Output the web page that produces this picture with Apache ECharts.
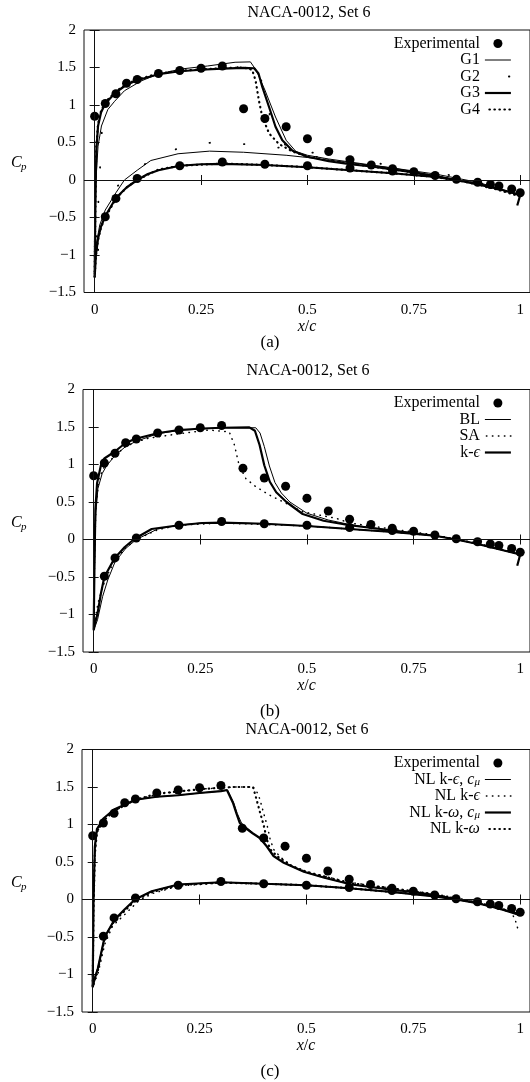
<!DOCTYPE html>
<html>
<head>
<meta charset="utf-8">
<script src="https://cdn.jsdelivr.net/npm/echarts@6/dist/echarts.min.js"></script>
<style>
  html, body { margin: 0; padding: 0; background: #fff; }
  #chart { width: 530px; height: 1082px; }
</style>
</head>
<body>
<div id="chart"></div>
<script>
// ---- experimental points (same set in all three panels) ----
const expUpperX = [0, 0.025, 0.05, 0.075, 0.1, 0.15, 0.2, 0.25, 0.3, 0.35, 0.4, 0.45, 0.5, 0.55, 0.6, 0.65, 0.7, 0.75, 0.8, 0.85, 0.9, 0.93, 0.95, 0.98, 1.0];
const expUpperCp = [0.85, 1.02, 1.15, 1.29, 1.34, 1.42, 1.46, 1.49, 1.52, 0.95, 0.82, 0.71, 0.55, 0.38, 0.27, 0.2, 0.15, 0.11, 0.06, 0.01, -0.03, -0.06, -0.08, -0.12, -0.17];
const expLowerX = [0.025, 0.05, 0.1, 0.2, 0.3, 0.4, 0.5, 0.6, 0.7];
const expLowerCp = [-0.49, -0.245, 0.02, 0.19, 0.24, 0.21, 0.19, 0.16, 0.12];

// ---- panel (a): grids ----
const g1UpX = [1.0, 0.9, 0.8, 0.7, 0.6, 0.55, 0.5, 0.473, 0.45, 0.425, 0.4, 0.38, 0.366, 0.33, 0.304, 0.265, 0.203, 0.148, 0.109, 0.07, 0.047, 0.031, 0.016, 0.008, 0.003, 0];
const g1UpCp = [-0.2, -0.05, 0.06, 0.16, 0.24, 0.28, 0.33, 0.38, 0.53, 0.84, 1.2, 1.46, 1.575, 1.57, 1.55, 1.52, 1.48, 1.41, 1.32, 1.19, 1.05, 0.94, 0.72, 0.45, 0.0, -1.2];
const g1LoX = [0.004, 0.012, 0.025, 0.05, 0.07, 0.1, 0.132, 0.196, 0.27, 0.35, 0.45, 0.5, 0.6, 0.7, 0.8, 0.9, 1.0];
const g1LoCp = [-0.85, -0.6, -0.4, -0.17, 0.0, 0.13, 0.26, 0.35, 0.385, 0.37, 0.33, 0.3, 0.23, 0.16, 0.08, -0.03, -0.2];

const g2UpX = [1.0, 0.8, 0.6, 0.5, 0.45, 0.42, 0.4, 0.385, 0.3, 0.2, 0.1, 0.05, 0.02, 0];
const g2UpCp = [-0.2, 0.06, 0.23, 0.33, 0.45, 0.7, 1.1, 1.5, 1.51, 1.47, 1.34, 1.18, 1.0, -1.3];
const g2LoX = [0.02, 0.05, 0.1, 0.15, 0.2, 0.275, 0.35, 0.45, 0.55, 0.7, 0.85, 1.0];
const g2LoCp = [-0.4, -0.1, 0.15, 0.32, 0.43, 0.5, 0.48, 0.42, 0.33, 0.19, 0.05, -0.2];

const g3UpX = [1.0, 0.95, 0.9, 0.85, 0.8, 0.75, 0.7, 0.65, 0.6, 0.55, 0.5, 0.465, 0.441, 0.425, 0.41, 0.394, 0.385, 0.375, 0.35, 0.3, 0.25, 0.2, 0.15, 0.1, 0.075, 0.05, 0.025, 0.015, 0.008, 0.004, 0.002, 0];
const g3UpCp = [-0.2, -0.12, -0.06, 0.0, 0.05, 0.1, 0.14, 0.18, 0.21, 0.25, 0.31, 0.39, 0.53, 0.71, 0.97, 1.24, 1.42, 1.49, 1.495, 1.485, 1.47, 1.45, 1.41, 1.33, 1.27, 1.17, 1.02, 0.9, 0.72, 0.4, -0.2, -1.3];
const g3LoX = [0.003, 0.008, 0.015, 0.025, 0.05, 0.075, 0.1, 0.125, 0.15, 0.2, 0.25, 0.3, 0.4, 0.5, 0.6, 0.7, 0.8, 0.85, 0.9, 0.95, 1.0, 0.993];
const g3LoCp = [-1.0, -0.78, -0.62, -0.48, -0.24, -0.1, 0.0, 0.08, 0.13, 0.19, 0.21, 0.215, 0.2, 0.17, 0.13, 0.09, 0.04, 0.0, -0.05, -0.12, -0.2, -0.34];

const g4UpX = [1.0, 0.95, 0.9, 0.85, 0.8, 0.75, 0.7, 0.65, 0.6, 0.55, 0.5, 0.465, 0.433, 0.41, 0.394, 0.386, 0.378, 0.37, 0.35, 0.3, 0.25, 0.2, 0.15, 0.1, 0.075, 0.05, 0.025, 0.015, 0.008, 0.004, 0.002, 0];
const g4UpCp = [-0.21, -0.13, -0.06, 0.0, 0.05, 0.1, 0.14, 0.18, 0.22, 0.26, 0.31, 0.38, 0.48, 0.62, 0.84, 1.06, 1.33, 1.47, 1.5, 1.49, 1.475, 1.455, 1.42, 1.34, 1.28, 1.18, 1.04, 0.92, 0.75, 0.45, -0.2, -1.3];
const g4LoX = [0.003, 0.008, 0.015, 0.025, 0.05, 0.075, 0.1, 0.15, 0.2, 0.3, 0.4, 0.5, 0.6, 0.7, 0.8, 0.9, 1.0];
const g4LoCp = [-1.0, -0.8, -0.63, -0.5, -0.25, -0.1, 0.0, 0.14, 0.19, 0.22, 0.2, 0.17, 0.13, 0.09, 0.04, -0.05, -0.22];

// ---- panel (b): turbulence models ----
const blUpX = [1.0, 0.95, 0.9, 0.85, 0.8, 0.7, 0.6, 0.55, 0.5, 0.46, 0.44, 0.425, 0.412, 0.4, 0.39, 0.38, 0.3, 0.2, 0.15, 0.1, 0.075, 0.05, 0.03, 0.02, 0.01, 0.005, 0.002, 0];
const blUpCp = [-0.2, -0.13, -0.06, 0.0, 0.05, 0.12, 0.2, 0.26, 0.35, 0.5, 0.62, 0.76, 0.98, 1.24, 1.42, 1.49, 1.49, 1.455, 1.41, 1.31, 1.24, 1.12, 0.98, 0.88, 0.68, 0.35, -0.4, -1.2];
const blLoX = [0.004, 0.009, 0.021, 0.033, 0.05, 0.075, 0.1, 0.15, 0.2, 0.25, 0.3, 0.4, 0.5, 0.6, 0.7, 0.8, 0.85, 0.9, 0.95, 1.0];
const blLoCp = [-1.15, -1.07, -0.76, -0.54, -0.3, -0.12, 0.0, 0.14, 0.19, 0.22, 0.225, 0.21, 0.18, 0.14, 0.1, 0.05, 0.0, -0.06, -0.13, -0.2];

const saUpX = [1.0, 0.9, 0.8, 0.7, 0.6, 0.57, 0.49, 0.452, 0.413, 0.381, 0.357, 0.341, 0.33, 0.318, 0.27, 0.2, 0.128, 0.1, 0.075, 0.05, 0.025, 0.012, 0.005, 0.002, 0];
const saUpCp = [-0.2, -0.05, 0.06, 0.14, 0.22, 0.28, 0.37, 0.48, 0.59, 0.7, 0.81, 0.99, 1.26, 1.435, 1.46, 1.41, 1.35, 1.3, 1.24, 1.12, 0.97, 0.8, 0.4, -0.3, -1.2];
const saLoX = [0.004, 0.01, 0.02, 0.03, 0.05, 0.075, 0.1, 0.15, 0.2, 0.3, 0.4, 0.5, 0.6, 0.7, 0.8, 0.9, 1.0];
const saLoCp = [-1.05, -0.85, -0.65, -0.5, -0.27, -0.11, 0.0, 0.13, 0.19, 0.22, 0.2, 0.18, 0.14, 0.1, 0.05, -0.05, -0.19];

const keUpX = [1.0, 0.95, 0.9, 0.85, 0.8, 0.7, 0.6, 0.539, 0.49, 0.452, 0.428, 0.413, 0.4, 0.389, 0.378, 0.365, 0.3, 0.255, 0.2, 0.152, 0.096, 0.073, 0.049, 0.025, 0.017, 0.008, 0.004, 0.002, 0];
const keUpCp = [-0.2, -0.13, -0.06, 0.0, 0.05, 0.12, 0.19, 0.25, 0.34, 0.5, 0.63, 0.77, 0.99, 1.26, 1.45, 1.495, 1.49, 1.48, 1.46, 1.42, 1.34, 1.28, 1.17, 1.08, 0.99, 0.75, 0.4, -0.3, -1.21];
const keLoX = [0.004, 0.009, 0.017, 0.025, 0.049, 0.073, 0.096, 0.136, 0.2, 0.255, 0.3, 0.4, 0.5, 0.6, 0.7, 0.8, 0.85, 0.9, 0.95, 1.0, 0.993];
const keLoCp = [-1.1, -0.99, -0.72, -0.5, -0.25, -0.1, 0.01, 0.14, 0.19, 0.22, 0.225, 0.21, 0.18, 0.14, 0.1, 0.05, 0.0, -0.06, -0.13, -0.2, -0.35];

// ---- panel (c): non-linear models ----
const nkecUpX = [1.0, 0.95, 0.9, 0.85, 0.8, 0.75, 0.7, 0.605, 0.542, 0.494, 0.447, 0.423, 0.407, 0.393, 0.378, 0.36, 0.348, 0.338, 0.33, 0.316, 0.3, 0.25, 0.2, 0.15, 0.1, 0.05, 0.025, 0.01, 0.005, 0.002, 0];
const nkecUpCp = [-0.2, -0.12, -0.05, 0.0, 0.06, 0.1, 0.13, 0.2, 0.29, 0.37, 0.49, 0.58, 0.71, 0.8, 0.87, 0.96, 1.02, 1.15, 1.29, 1.455, 1.445, 1.42, 1.39, 1.37, 1.33, 1.2, 1.08, 0.94, 0.7, 0.0, -1.17];
const nkecLoX = [0.004, 0.012, 0.028, 0.051, 0.075, 0.099, 0.138, 0.2, 0.3, 0.4, 0.5, 0.6, 0.7, 0.8, 0.85, 0.9, 0.95, 1.0];
const nkecLoCp = [-1.05, -0.91, -0.49, -0.27, -0.13, 0.0, 0.11, 0.2, 0.23, 0.21, 0.19, 0.15, 0.1, 0.04, 0.0, -0.05, -0.12, -0.2];

const nkeUpX = [1.0, 0.9, 0.8, 0.7, 0.6, 0.5, 0.47, 0.44, 0.423, 0.415, 0.408, 0.399, 0.391, 0.383, 0.375, 0.33, 0.3, 0.25, 0.2, 0.15, 0.1, 0.05, 0.025, 0.01, 0.005, 0.002, 0];
const nkeUpCp = [-0.2, -0.04, 0.07, 0.15, 0.23, 0.37, 0.43, 0.56, 0.67, 0.81, 0.99, 1.17, 1.34, 1.45, 1.5, 1.5, 1.49, 1.47, 1.44, 1.4, 1.33, 1.18, 1.05, 0.9, 0.6, -0.1, -1.17];
const nkeLoX = [0.004, 0.012, 0.028, 0.047, 0.075, 0.107, 0.14, 0.2, 0.3, 0.4, 0.5, 0.6, 0.7, 0.8, 0.9, 0.95, 0.98, 0.99, 0.995];
const nkeLoCp = [-1.1, -1.0, -0.6, -0.35, -0.2, -0.02, 0.08, 0.18, 0.22, 0.21, 0.19, 0.15, 0.1, 0.05, -0.04, -0.11, -0.17, -0.3, -0.4];

const nkwcUpX = [1.0, 0.95, 0.9, 0.85, 0.8, 0.75, 0.7, 0.605, 0.542, 0.494, 0.447, 0.423, 0.407, 0.391, 0.375, 0.356, 0.344, 0.336, 0.328, 0.314, 0.3, 0.25, 0.2, 0.15, 0.1, 0.05, 0.025, 0.01, 0.005, 0.002, 0];
const nkwcUpCp = [-0.2, -0.12, -0.05, 0.0, 0.06, 0.1, 0.13, 0.2, 0.29, 0.37, 0.49, 0.58, 0.71, 0.82, 0.88, 0.96, 1.02, 1.15, 1.29, 1.46, 1.445, 1.42, 1.39, 1.37, 1.33, 1.2, 1.08, 0.94, 0.7, 0.0, -1.17];
const nkwcLoX = [0.004, 0.012, 0.028, 0.051, 0.075, 0.099, 0.138, 0.2, 0.3, 0.4, 0.5, 0.6, 0.7, 0.8, 0.85, 0.9, 0.95, 1.0];
const nkwcLoCp = [-1.07, -0.92, -0.5, -0.27, -0.13, 0.0, 0.11, 0.2, 0.23, 0.21, 0.19, 0.15, 0.1, 0.04, 0.0, -0.05, -0.12, -0.21];

const nkwUpX = [1.0, 0.9, 0.8, 0.7, 0.6, 0.5, 0.465, 0.431, 0.415, 0.407, 0.4, 0.391, 0.383, 0.375, 0.33, 0.3, 0.25, 0.2, 0.15, 0.1, 0.05, 0.025, 0.01, 0.005, 0.002, 0];
const nkwUpCp = [-0.2, -0.04, 0.07, 0.15, 0.22, 0.37, 0.45, 0.58, 0.67, 0.81, 0.99, 1.17, 1.34, 1.5, 1.5, 1.49, 1.47, 1.44, 1.41, 1.33, 1.18, 1.05, 0.9, 0.6, -0.1, -1.17];
const nkwLoX = [0.004, 0.012, 0.028, 0.05, 0.075, 0.1, 0.14, 0.2, 0.3, 0.4, 0.5, 0.6, 0.7, 0.8, 0.9, 1.0];
const nkwLoCp = [-1.08, -0.95, -0.52, -0.29, -0.15, -0.01, 0.1, 0.19, 0.225, 0.21, 0.19, 0.15, 0.1, 0.05, -0.04, -0.19];

// ---- axes ----
const xTicks = [0, 0.25, 0.5, 0.75, 1];
const yMin = -1.5, yMax = 2, yStep = 0.5;
const titleText = 'NACA-0012, Set 6';
const captions = ['(a)', '(b)', '(c)'];

const FONT = '"Liberation Serif", "DejaVu Serif", serif';
const panelTops = [30, 389.5, 749.5];
const panelLefts = [84, 83, 82];
const panelH = 262.5, panelW = 448;
const xMin = -0.025, xMax = xMin + panelW / 427.5;
const captionY = [343, 711.5, 1071.5];
const titleY = [13, 371, 730];

const pairs = (xs, ys) => xs.map((x, i) => [x, ys[i]]);
const loop = (ux, uy, lx, ly) => pairs(ux, uy).concat(pairs(lx, ly));

const thin = { color: '#000', width: 1, type: 'solid' };
const thick = { color: '#000', width: 2.2, type: 'solid' };
const dotThick = { color: '#000', width: 2.2, type: [0.5, 4.5], cap: 'round' };
const dotThin = { color: '#000', width: 1.5, type: [0.5, 5.5], cap: 'round' };
const dotSparse = { color: '#000', width: 1.8, type: [0.5, 34], cap: 'round' };

const panelSeries = [
  [
    { name: 'G1', data: loop(g1UpX, g1UpCp, g1LoX, g1LoCp), style: thin },
    { name: 'G2', data: loop(g2UpX, g2UpCp, g2LoX, g2LoCp), style: dotSparse },
    { name: 'G3', data: loop(g3UpX, g3UpCp, g3LoX, g3LoCp), style: thick },
    { name: 'G4', data: loop(g4UpX, g4UpCp, g4LoX, g4LoCp), style: dotThick }
  ],
  [
    { name: 'BL', data: loop(blUpX, blUpCp, blLoX, blLoCp), style: thin },
    { name: 'SA', data: loop(saUpX, saUpCp, saLoX, saLoCp), style: dotThin },
    { name: 'k-ϵ', data: loop(keUpX, keUpCp, keLoX, keLoCp), style: thick }
  ],
  [
    { name: 'NL k-ϵ, cμ', data: loop(nkecUpX, nkecUpCp, nkecLoX, nkecLoCp), style: thin },
    { name: 'NL k-ϵ', data: loop(nkeUpX, nkeUpCp, nkeLoX, nkeLoCp), style: dotThin },
    { name: 'NL k-ω, cμ', data: loop(nkwcUpX, nkwcUpCp, nkwcLoX, nkwcLoCp), style: thick },
    { name: 'NL k-ω', data: loop(nkwUpX, nkwUpCp, nkwLoX, nkwLoCp), style: dotThick }
  ]
];

const richNames = {
  'k-ϵ': 'k-{g|ϵ}',
  'NL k-ϵ, cμ': 'NL k-{g|ϵ}, {g|c}{sub|μ}',
  'NL k-ϵ': 'NL k-{g|ϵ}',
  'NL k-ω, cμ': 'NL k-{g|ω}, {g|c}{sub|μ}',
  'NL k-ω': 'NL k-{g|ω}'
};

const grids = [], xAxes = [], yAxes = [], series = [], legends = [], graphics = [];
const fmtY = v => (v < 0 ? '\u2212' + Math.abs(v) : String(v));

panelTops.forEach((top, i) => {
  const left = panelLefts[i];
  grids.push({ left: left, top: top, width: panelW, height: panelH, show: true,
    borderColor: '#111', borderWidth: 1, backgroundColor: 'transparent' });

  const tick = { show: true, inside: true, length: 5, customValues: xTicks, lineStyle: { color: '#111', width: 1 } };
  xAxes.push({
    type: 'value', gridIndex: i, position: 'bottom', min: xMin, max: xMax,
    axisLine: { show: false }, splitLine: { show: false }, axisTick: tick,
    axisLabel: { customValues: xTicks, color: '#000', fontFamily: FONT, fontSize: 15, margin: 10 },
    name: '{i|x}/{i|c}', nameLocation: 'middle', nameGap: 24.5,
    nameTextStyle: { color: '#000', fontFamily: FONT, fontSize: 16,
      rich: { i: { fontStyle: 'italic', fontFamily: FONT, fontSize: 16, color: '#000' } } }
  });
  xAxes.push({
    type: 'value', gridIndex: i, position: 'top', min: xMin, max: xMax,
    axisLine: { show: false }, splitLine: { show: false }, axisTick: tick,
    axisLabel: { show: false }
  });
  const ytick = { show: true, inside: true, length: 5, lineStyle: { color: '#111', width: 1 } };
  yAxes.push({
    type: 'value', gridIndex: i, position: 'left', min: yMin, max: yMax, interval: yStep,
    axisLine: { show: false }, splitLine: { show: false }, axisTick: ytick,
    axisLabel: { formatter: fmtY, color: '#000', fontFamily: FONT, fontSize: 15, margin: 8 }
  });
  yAxes.push({
    type: 'value', gridIndex: i, position: 'right', min: yMin, max: yMax, interval: yStep,
    axisLine: { show: false }, splitLine: { show: false }, axisTick: ytick,
    axisLabel: { show: false }
  });

  const legendData = [{ name: 'Experimental' }];
  panelSeries[i].forEach(s => {
    series.push({
      type: 'line', name: s.name, xAxisIndex: 2 * i, yAxisIndex: 2 * i,
      data: s.data, symbol: 'none', showSymbol: false, lineStyle: s.style,
      itemStyle: { color: '#000' }, z: 2, silent: true
    });
    // legend sample: line only (hide the default symbol dot); sparse dot sits at the right end
    const ls = s.style === dotSparse ? Object.assign({}, s.style, { dashOffset: 10.5 }) : s.style;
    legendData.push({ name: s.name, lineStyle: ls, itemStyle: { opacity: 0 } });
  });

  series.push({
    type: 'scatter', name: 'Experimental', xAxisIndex: 2 * i, yAxisIndex: 2 * i,
    data: pairs(expUpperX, expUpperCp).concat(pairs(expLowerX, expLowerCp)),
    symbol: 'circle', symbolSize: 9, itemStyle: { color: '#000', opacity: 1 }, z: 4, silent: true,
    markLine: {
      silent: true, symbol: ['none', 'none'], label: { show: false },
      lineStyle: { color: '#111', width: 1, type: 'solid', opacity: 1 }, animation: false,
      data: [{ yAxis: 0 }, { xAxis: 0 }]
    }
  });

  legends.push({
    orient: 'vertical', right: 18, top: top + 5.5, align: 'right', padding: 0,
    itemWidth: 26, itemHeight: 9, itemGap: 0.5, selectedMode: false,
    data: legendData,
    formatter: n => richNames[n] || n,
    textStyle: {
      color: '#000', fontFamily: FONT, fontSize: 16, lineHeight: 16,
      rich: {
        g: { fontStyle: 'italic', fontFamily: FONT, fontSize: 16, lineHeight: 16, color: '#000' },
        sub: { fontStyle: 'italic', fontFamily: FONT, fontSize: 11, lineHeight: 16, verticalAlign: 'bottom', color: '#000' }
      }
    }
  });

  const midX = left + 225;
  graphics.push({ type: 'text', x: midX, y: titleY[i], silent: true,
    style: { text: titleText, fontFamily: FONT, fontSize: 16, fill: '#000',
      align: 'center', verticalAlign: 'middle', textAlign: 'center', textVerticalAlign: 'middle' } });
  graphics.push({ type: 'text', x: 270, y: captionY[i], silent: true,
    style: { text: captions[i], fontFamily: FONT, fontSize: 17, fill: '#000',
      align: 'center', verticalAlign: 'middle', textAlign: 'center', textVerticalAlign: 'middle' } });
  const cy = top + panelH / 2 + 2;
  graphics.push({ type: 'text', x: 11, y: cy, silent: true,
    style: { text: 'C', fontFamily: FONT, fontSize: 16, fontStyle: 'italic', fill: '#000',
      align: 'left', verticalAlign: 'middle', textAlign: 'left', textVerticalAlign: 'middle' } });
  graphics.push({ type: 'text', x: 21, y: cy + 4, silent: true,
    style: { text: 'p', fontFamily: FONT, fontSize: 11, fontStyle: 'italic', fill: '#000',
      align: 'left', verticalAlign: 'middle', textAlign: 'left', textVerticalAlign: 'middle' } });
});

const chart = echarts.init(document.getElementById('chart'), null, { renderer: 'canvas' });
chart.setOption({
  animation: false,
  backgroundColor: '#fff',
  grid: grids,
  xAxis: xAxes,
  yAxis: yAxes,
  legend: legends,
  series: series,
  graphic: graphics
});
</script>
</body>
</html>
